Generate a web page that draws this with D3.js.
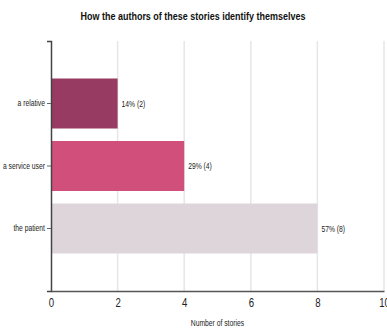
<!DOCTYPE html>
<html>
<head>
<meta charset="utf-8">
<script src="https://cdn.jsdelivr.net/npm/d3@7"></script>
<style>
  html, body { margin: 0; padding: 0; background: #fff; }
  svg { display: block; }
</style>
</head>
<body>
<svg id="chart" width="387" height="329"></svg>
<script>
// Who wrote the stories
const categories = ["a relative", "a service user", "the patient"];
const counts = [2, 4, 8];
const percentLabels = ["14%", "29%", "57%"];
const barColors = ["#983b62", "#d14f7b", "#ded5db"];
const xTicks = [0, 2, 4, 6, 8, 10];
const titleText = "How the authors of these stories identify themselves";
const xTitle = "Number of stories";

const svg = d3.select("#chart");
const margin = { left: 51, right: 3, top: 41, bottom: 38 };
const W = 387, H = 329;

const x = d3.scaleLinear().domain([0, 10]).range([margin.left, W - margin.right]);
const y = d3.scaleBand().domain(categories).range([margin.top, H - margin.bottom])
  .paddingInner(0.2).paddingOuter(0.6);

const font = "'Liberation Sans', Arial, sans-serif";

// narrow the glyphs horizontally, keeping each text's anchor point
function squeeze(sel, factor) {
  sel.each(function () {
    const w = this.getComputedTextLength();
    d3.select(this)
      .attr("textLength", w * factor)
      .attr("lengthAdjust", "spacingAndGlyphs");
  });
}

// title
svg.append("text")
  .attr("x", 193).attr("y", 20)
  .attr("text-anchor", "middle")
  .attr("font-family", font)
  .attr("font-weight", "bold")
  .attr("font-size", 11.5)
  .attr("fill", "#111")
  .text(titleText)
  .call(squeeze, 0.78);

// vertical gridlines
svg.append("g").selectAll("line")
  .data(xTicks.filter(d => d > 0))
  .join("line")
  .attr("x1", d => x(d)).attr("x2", d => x(d))
  .attr("y1", margin.top).attr("y2", H - margin.bottom)
  .attr("stroke", "#e6e6e6").attr("stroke-width", 1.5);

// bars
svg.append("g").selectAll("rect")
  .data(categories)
  .join("rect")
  .attr("x", x(0))
  .attr("y", d => y(d))
  .attr("width", (d, i) => x(counts[i]) - x(0))
  .attr("height", y.bandwidth())
  .attr("fill", (d, i) => barColors[i]);

// value labels
svg.append("g").selectAll("text")
  .data(categories)
  .join("text")
  .attr("x", (d, i) => x(counts[i]) + 4)
  .attr("y", d => y(d) + y.bandwidth() / 2)
  .attr("dy", "0.35em")
  .attr("font-family", font)
  .attr("font-size", 9)
  .attr("fill", "#222")
  .text((d, i) => `${percentLabels[i]} (${counts[i]})`)
  .call(squeeze, 0.75);

// y axis
const yAxis = svg.append("g")
  .attr("transform", `translate(${x(0)},0)`)
  .call(d3.axisLeft(y).tickSize(4).tickPadding(2).tickSizeOuter(4));
yAxis.select(".domain").attr("stroke", "#444").attr("stroke-width", 1.5);
yAxis.selectAll(".tick line").attr("stroke", "#666");
yAxis.selectAll(".tick text")
  .attr("font-family", font)
  .attr("font-size", 9)
  .attr("fill", "#222")
  .call(squeeze, 0.75);

// x axis
const xAxis = svg.append("g")
  .attr("transform", `translate(0,${H - margin.bottom})`)
  .call(d3.axisBottom(x).tickValues(xTicks).tickSize(0).tickPadding(7).tickSizeOuter(0));
xAxis.select(".domain").attr("stroke", "#555").attr("stroke-width", 1.5);
xAxis.selectAll(".tick text")
  .attr("font-family", font)
  .attr("font-size", 12)
  .attr("fill", "#222")
  .call(squeeze, 0.8);

// x axis title
svg.append("text")
  .attr("x", (x(0) + x(10)) / 2)
  .attr("y", 326)
  .attr("text-anchor", "middle")
  .attr("font-family", font)
  .attr("font-size", 9)
  .attr("fill", "#222")
  .text(xTitle)
  .call(squeeze, 0.75);
</script>
</body>
</html>
